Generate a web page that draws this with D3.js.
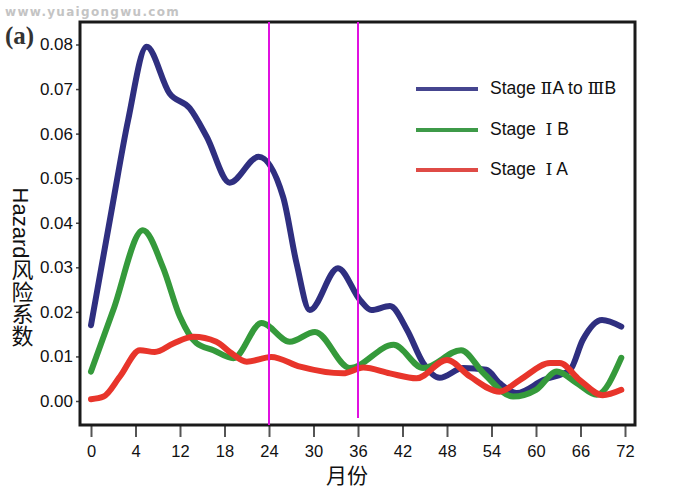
<!DOCTYPE html>
<html>
<head>
<meta charset="utf-8">
<script src="https://cdn.jsdelivr.net/npm/d3@7"></script>
<style>
  body { margin: 0; background: #fff; }
  svg { display: block; font-family: "Liberation Sans", Arial, "Noto Sans CJK SC", sans-serif; }
</style>
</head>
<body>
<svg id="chart" width="688" height="502"></svg>
<script>
// series (months, hazard)
var blueMonths = [0, 2.8, 5, 7.5, 10.6, 13.3, 15.6, 18.7, 22.6, 25.9, 27.7, 29.5, 33.3, 36.3, 37.8, 40.3, 42.6, 44.8, 47, 50.2, 53.3, 55.1, 57.4, 61, 64.6, 66.3, 68.9, 71.5];
var blueValues = [0.017, 0.043, 0.063, 0.0795, 0.069, 0.0657, 0.0593, 0.049, 0.0548, 0.0458, 0.031, 0.0204, 0.0298, 0.0226, 0.0204, 0.0213, 0.016, 0.0085, 0.0052, 0.0074, 0.007, 0.004, 0.0018, 0.0047, 0.007, 0.0137, 0.0182, 0.0167];

var greenMonths = [0, 3, 7, 9.7, 12, 14.2, 16.5, 19.2, 23, 26.8, 30.2, 34.9, 40.8, 44.8, 49.9, 52.9, 56.9, 60, 62.8, 65.5, 68.2, 71.5];
var greenValues = [0.0066, 0.0204, 0.0383, 0.030, 0.0189, 0.013, 0.0114, 0.0096, 0.0175, 0.0133, 0.0155, 0.0074, 0.0126, 0.0074, 0.0114, 0.0063, 0.001, 0.0025, 0.0066, 0.004, 0.0014, 0.0097];

var redMonths = [0, 1.7, 3.9, 6.6, 8.6, 11.1, 13.8, 16.9, 18.7, 21, 24.3, 28.2, 34, 36.7, 40.3, 43.9, 48, 51.1, 55.1, 57.8, 61.9, 63.2, 65.9, 69, 71.5];
var redValues = [0.0004, 0.001, 0.0055, 0.0114, 0.011, 0.0129, 0.0144, 0.0133, 0.011, 0.0088, 0.0099, 0.0077, 0.0062, 0.0075, 0.0062, 0.0051, 0.0092, 0.0055, 0.0021, 0.0047, 0.0085, 0.0085, 0.0047, 0.0013, 0.0025];

// legend labels split so the roman numerals can get a serif face
var seriesNames = [
  [["Stage ", false], ["\u2161", true], ["A to ", false], ["\u2162", true], ["B", false]],
  [["Stage  ", false], ["\u2160", true], [" B", false]],
  [["Stage  ", false], ["\u2160", true], [" A", false]]
];

var xTickValues = [0, 6, 12, 18, 24, 30, 36, 42, 48, 54, 60, 66, 72];
var xTickLabels = ["0", "4", "12", "18", "24", "30", "36", "42", "48", "54", "60", "66", "72"];
var yTickValues = [0, 0.01, 0.02, 0.03, 0.04, 0.05, 0.06, 0.07, 0.08];
var markerMonths = [24, 36];

var svg = d3.select("#chart");

var x = d3.scaleLinear().domain([0, 72]).range([91, 625]);
var y = d3.scaleLinear().domain([0, 0.08]).range([401, 44.5]);

var frameL = 80, frameR = 635, frameT = 22, frameB = 425;

// watermark + panel letter
svg.append("text")
  .attr("x", 5).attr("y", 16)
  .style("font-family", "'DejaVu Sans', sans-serif")
  .style("font-weight", "bold")
  .style("font-size", "12px")
  .style("letter-spacing", "1.3px")
  .attr("fill", "#c4c4c4")
  .text("www.yuaigongwu.com");

svg.append("text")
  .attr("x", 5).attr("y", 44)
  .style("font-family", "'Liberation Serif', serif")
  .style("font-weight", "bold")
  .style("font-size", "25px")
  .attr("fill", "#333")
  .text("(a)");

// axes
var xAxis = d3.axisBottom(x)
  .tickValues(xTickValues)
  .tickFormat(function(d, i) { return xTickLabels[i]; })
  .tickSize(12)
  .tickPadding(8);

var gx = svg.append("g").attr("transform", "translate(0," + frameB + ")").call(xAxis);
gx.select(".domain").remove();
gx.selectAll(".tick line").attr("stroke", "#555").attr("stroke-width", 2);
gx.selectAll(".tick text").attr("fill", "#111").style("font-size", "16.5px").style("font-family", "'Liberation Sans', Arial, sans-serif");

var yAxis = d3.axisLeft(y)
  .tickValues(yTickValues)
  .tickFormat(d3.format(".2f"))
  .tickSize(4)
  .tickPadding(3);

var gy = svg.append("g").attr("transform", "translate(" + frameL + ",0)").call(yAxis);
gy.select(".domain").remove();
gy.selectAll(".tick line").attr("stroke", "#444").attr("stroke-width", 1.5);
gy.selectAll(".tick text").attr("fill", "#111").style("font-size", "17px").style("font-family", "'Liberation Sans', Arial, sans-serif");

// frame
svg.append("rect")
  .attr("x", frameL).attr("y", frameT)
  .attr("width", frameR - frameL).attr("height", frameB - frameT)
  .attr("fill", "none")
  .attr("stroke", "#1a1a1a")
  .attr("stroke-width", 3);

// axis titles
svg.append("text")
  .attr("x", 347).attr("y", 483)
  .attr("text-anchor", "middle")
  .style("font-family", "'Noto Sans CJK SC', sans-serif")
  .style("font-size", "21px")
  .attr("fill", "#111")
  .text("月份");

svg.append("text")
  .attr("x", 20).attr("y", 267)
  .attr("text-anchor", "middle")
  .style("writing-mode", "vertical-rl")
  .style("font-family", "'Liberation Sans', 'Noto Sans CJK SC', sans-serif")
  .style("font-size", "22px")
  .attr("fill", "#111")
  .text("Hazard风险系数");

// curves
var line = d3.line()
  .x(function(d) { return x(d[0]); })
  .y(function(d) { return y(d[1]); })
  .curve(d3.curveMonotoneX);

var series = [
  { months: blueMonths, values: blueValues, color: "#2f2f80", legend: "#45458f" },
  { months: greenMonths, values: greenValues, color: "#359a3b", legend: "#3e9a48" },
  { months: redMonths, values: redValues, color: "#e8352b", legend: "#df4b46" }
];

series.forEach(function(s) {
  var pts = s.months.map(function(m, i) { return [m, s.values[i]]; });
  svg.append("path")
    .datum(pts)
    .attr("d", line)
    .attr("fill", "none")
    .attr("stroke", s.color)
    .attr("stroke-width", 6)
    .attr("stroke-linecap", "round")
    .attr("stroke-linejoin", "round");
});

// magenta marker lines
svg.selectAll(".marker")
  .data(markerMonths)
  .enter().append("line")
  .attr("class", "marker")
  .attr("x1", function(d) { return x(d); })
  .attr("x2", function(d) { return x(d); })
  .attr("y1", frameT)
  .attr("y2", function(d, i) { return i === 0 ? frameB : frameB - 7; })
  .attr("stroke", "#e011e0")
  .attr("stroke-width", 2);

// legend
var legendY = [89, 130, 170];
var lg = svg.append("g");
series.forEach(function(s, i) {
  lg.append("line")
    .attr("x1", 416).attr("x2", 478)
    .attr("y1", legendY[i]).attr("y2", legendY[i])
    .attr("stroke", s.legend)
    .attr("stroke-width", 4);
  var t = lg.append("text")
    .attr("x", 490).attr("y", legendY[i] + 5)
    .style("font-size", "17.5px")
    .style("white-space", "pre")
    .attr("fill", "#111");
  seriesNames[i].forEach(function(part) {
    t.append("tspan")
      .style("font-family", part[1] ? "'DejaVu Serif', 'Liberation Serif', serif" : "'Liberation Sans', Arial, sans-serif")
      .text(part[0]);
  });
});
</script>
</body>
</html>
